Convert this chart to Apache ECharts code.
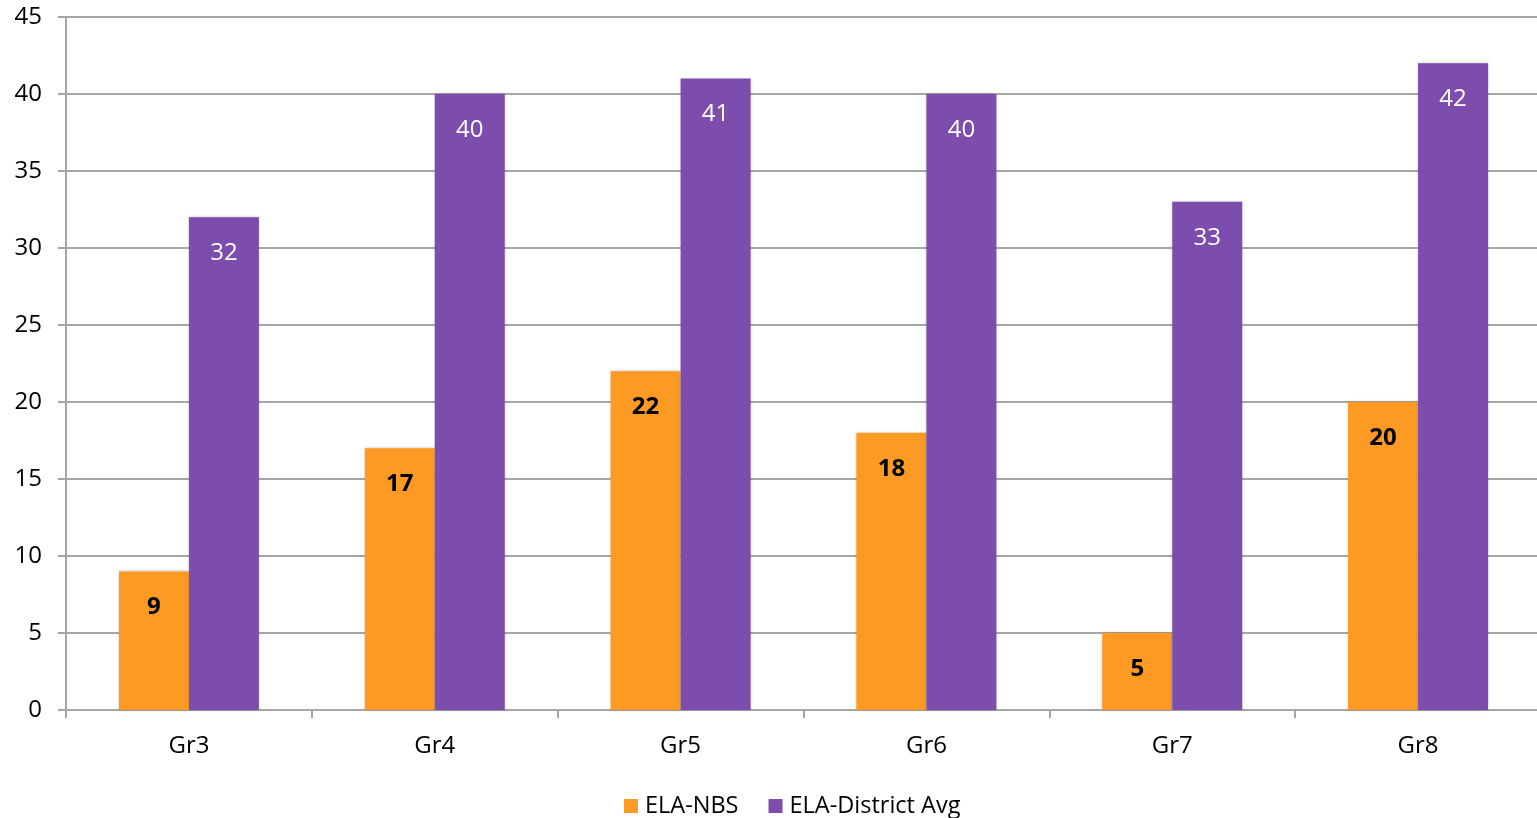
<!DOCTYPE html>
<html>
<head>
<meta charset="utf-8">
<script src="https://cdn.jsdelivr.net/npm/echarts@6/dist/echarts.min.js"></script>
<style>
  html, body { margin: 0; padding: 0; background: #fff; overflow: hidden; }
  #chart { width: 1541px; height: 818px; }
</style>
</head>
<body>
<div id="chart"></div>
<script>
const categories = ['Gr3', 'Gr4', 'Gr5', 'Gr6', 'Gr7', 'Gr8'];
const nbsValues = [9, 17, 22, 18, 5, 20];
const districtValues = [32, 40, 41, 40, 33, 42];

const lineColor = '#a6a6a6';
const fontFamily = '"Open Sans", "Noto Sans", sans-serif';

const chart = echarts.init(document.getElementById('chart'));

chart.setOption({
    animation: false,
    textStyle: { fontFamily: fontFamily },
    grid: { left: 66, right: 0, top: 17, bottom: 108 },
    legend: {
        bottom: 0,
        left: 624,
        padding: 0,
        itemWidth: 14,
        itemHeight: 14,
        itemGap: 30,
        icon: 'rect',
        textStyle: { fontSize: 23.5, color: '#000', fontFamily: fontFamily, padding: [0, 0, 0, 2] },
        data: ['ELA-NBS', 'ELA-District Avg']
    },
    xAxis: {
        type: 'category',
        data: categories,
        axisLine: { lineStyle: { color: lineColor, width: 2 } },
        axisTick: { show: true, length: 8, lineStyle: { color: lineColor, width: 2 } },
        axisLabel: { fontSize: 24, color: '#000', margin: 24 }
    },
    yAxis: {
        type: 'value',
        min: 0,
        max: 45,
        interval: 5,
        axisLine: { show: true, lineStyle: { color: lineColor, width: 2 } },
        axisTick: { show: true, length: 8, lineStyle: { color: lineColor, width: 2 } },
        axisLabel: { fontSize: 24, color: '#000', margin: 24 },
        splitLine: { lineStyle: { color: lineColor, width: 2 } }
    },
    series: [
        {
            name: 'ELA-NBS',
            type: 'bar',
            barWidth: 70,
            barGap: '0%',
            data: nbsValues,
            itemStyle: {
                color: '#fc9a24',
                shadowColor: 'rgba(0,0,0,0.25)',
                shadowBlur: 3
            },
            label: {
                show: true,
                position: 'insideTop',
                distance: 24,
                fontSize: 24,
                fontWeight: 'bold',
                color: '#000'
            }
        },
        {
            name: 'ELA-District Avg',
            type: 'bar',
            barWidth: 70,
            barGap: '0%',
            data: districtValues,
            itemStyle: {
                color: '#7d4dad',
                shadowColor: 'rgba(0,0,0,0.25)',
                shadowBlur: 3
            },
            label: {
                show: true,
                position: 'insideTop',
                distance: 24,
                fontSize: 24,
                color: '#fff'
            }
        }
    ]
});
</script>
</body>
</html>
